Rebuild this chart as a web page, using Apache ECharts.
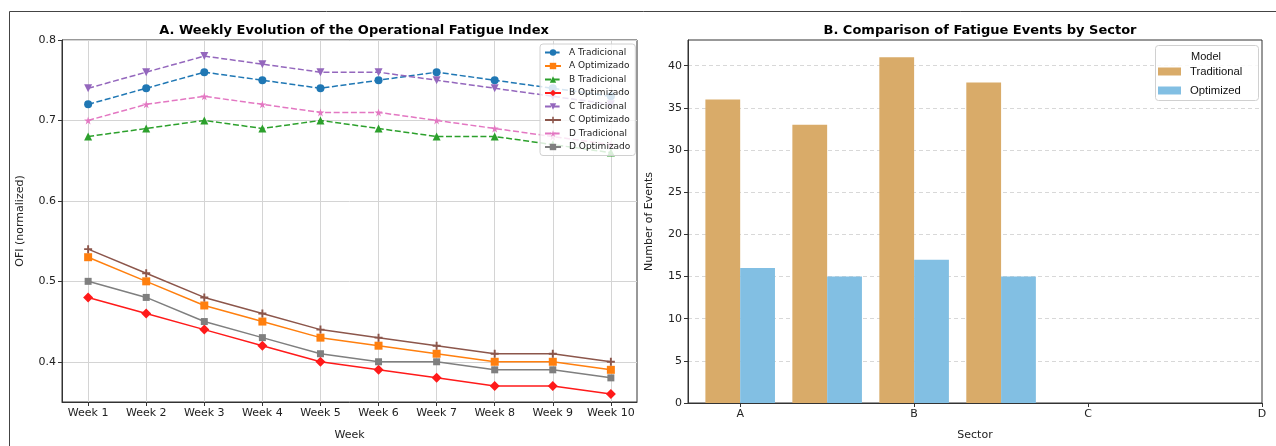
<!DOCTYPE html>
<html><head><meta charset="utf-8">
<script src="https://cdn.jsdelivr.net/npm/echarts@6/dist/echarts.min.js"></script>
<style>html,body{margin:0;padding:0;background:#fff}#c{width:1276px;height:446px}</style>
</head><body><div id="c"></div>
<script>
const weeks = ['Week 1','Week 2','Week 3','Week 4','Week 5','Week 6','Week 7','Week 8','Week 9','Week 10'];
const aTradicional = [0.72,0.74,0.76,0.75,0.74,0.75,0.76,0.75,0.74,0.73];
const aOptimizado  = [0.53,0.50,0.47,0.45,0.43,0.42,0.41,0.40,0.40,0.39];
const bTradicional = [0.68,0.69,0.70,0.69,0.70,0.69,0.68,0.68,0.67,0.66];
const bOptimizado  = [0.48,0.46,0.44,0.42,0.40,0.39,0.38,0.37,0.37,0.36];
const cTradicional = [0.74,0.76,0.78,0.77,0.76,0.76,0.75,0.74,0.73,0.72];
const cOptimizado  = [0.54,0.51,0.48,0.46,0.44,0.43,0.42,0.41,0.41,0.40];
const dTradicional = [0.70,0.72,0.73,0.72,0.71,0.71,0.70,0.69,0.68,0.67];
const dOptimizado  = [0.50,0.48,0.45,0.43,0.41,0.40,0.40,0.39,0.39,0.38];
const ofiTicks = [0.4,0.5,0.6,0.7,0.8];

const sectors = ['A','B','C','D'];
const traditional = [36,33,41,38];
const optimized = [16,15,17,15];
const eventTicks = [0,5,10,15,20,25,30,35,40];

const weekIdx = weeks.map((w,i)=>i);
const sectorIdx = sectors.map((s,i)=>i);
const pts = arr => arr.map((v,i)=>[i,v]);

const STAR = 'path://M50,0 L61,35 L98,35 L68,57 L79,91 L50,70 L21,91 L32,57 L2,35 L39,35 Z';
const PLUS = 'path://M38,0H62V38H100V62H62V100H38V62H0V38H38Z';
const TRI_DOWN = 'path://M0,0 L100,0 L50,90 Z';
const TRI_UP = 'path://M50,0 L100,90 L0,90 Z';
const DASH = [6,2.6];
const txt = '#222';
const font = 'DejaVu Sans';

function lineSeries(name, data, color, symbol, size, dashed){
  return {
    type:'line', name, xAxisIndex:0, yAxisIndex:0, data: pts(data),
    symbol, symbolSize:size, showSymbol:true,
    itemStyle:{color},
    lineStyle:{color, width:1.5, type: dashed ? DASH : 'solid'},
    animation:false
  };
}

function renderBar(params, api){
  const x = api.value(0), y = api.value(1);
  const p0 = api.coord([x - 0.1, y]);
  const p1 = api.coord([x + 0.1, 0]);
  return {type:'rect', shape:{x:p0[0], y:p0[1], width:p1[0]-p0[0], height:p1[1]-p0[1]}, style:{fill:api.visual('color')}};
}

const chart = echarts.init(document.getElementById('c'), null, {renderer:'canvas'});
chart.setOption({
  animation:false,
  textStyle:{fontFamily:font},
  title:[
    {text:'A. Weekly Evolution of the Operational Fatigue Index', left:349, top:19, textAlign:'center',
     textStyle:{fontSize:13, fontWeight:'bold', color:'#000', fontFamily:font}},
    {text:'B. Comparison of Fatigue Events by Sector', left:975, top:19, textAlign:'center',
     textStyle:{fontSize:13, fontWeight:'bold', color:'#000', fontFamily:font}}
  ],
  graphic:[
    {type:'rect', shape:{x:9.5, y:11.5, width:1300, height:1000}, style:{fill:'none', stroke:'#444', lineWidth:1}, silent:true},
    {type:'rect', shape:{x:1155.5, y:45.5, width:103, height:55, r:3}, style:{fill:'rgba(255,255,255,0.85)', stroke:'#d0d0d0', lineWidth:1}, z:10, silent:true},
    {type:'text', left:1191, top:51, style:{text:'Model', fontSize:11, fontFamily:'Liberation Sans', fill:'#111'}, z:11, silent:true}
  ],
  legend:[
    {orient:'vertical', left:540, top:44, padding:[4,5,4,4], itemGap:4.5, itemWidth:16, itemHeight:8,
     backgroundColor:'rgba(255,255,255,0.82)', borderColor:'#d0d0d0', borderWidth:1, borderRadius:3,
     textStyle:{fontSize:9, lineHeight:8, color:txt, fontFamily:font, padding:[0,0,0,3]},
     data:['A Tradicional','A Optimizado','B Tradicional','B Optimizado','C Tradicional','C Optimizado','D Tradicional','D Optimizado']},
    {orient:'vertical', left:1158, top:66, padding:0, itemGap:8, itemWidth:23, itemHeight:8,
     textStyle:{fontSize:11.3, lineHeight:8, color:'#111', fontFamily:'Liberation Sans', padding:[0,0,0,4]}, z:12,
     data:[{name:'Traditional', icon:'rect'},{name:'Optimized', icon:'rect'}]}
  ],
  grid:[
    {left:62, top:40, width:575, height:365, show:true, borderColor:'#333', borderWidth:1, backgroundColor:'transparent'},
    {left:688, top:40, width:574, height:365, show:true, borderColor:'#333', borderWidth:1, backgroundColor:'transparent'}
  ],
  xAxis:[
    {type:'value', gridIndex:0, min:-0.45, max:9.45,
     name:'Week', nameLocation:'middle', nameGap:28, nameTextStyle:{fontSize:11, color:txt},
     axisLine:{onZero:false, lineStyle:{color:'#333'}},
     axisTick:{customValues:weekIdx, length:4, lineStyle:{color:'#333'}},
     axisLabel:{customValues:weekIdx, formatter:v=>weeks[Math.round(v)], fontSize:11, color:txt, margin:6},
     splitLine:{show:true, lineStyle:{color:'#d4d4d4', width:1}}},
    {type:'value', gridIndex:1, min:-0.3, max:3,
     name:'Sector', nameLocation:'middle', nameGap:27, nameTextStyle:{fontSize:11, color:txt},
     axisLine:{onZero:false, lineStyle:{color:'#333'}},
     axisTick:{customValues:sectorIdx, length:4, lineStyle:{color:'#333'}},
     axisLabel:{customValues:sectorIdx, formatter:v=>sectors[Math.round(v)], fontSize:11, color:txt, margin:6},
     splitLine:{show:false}}
  ],
  yAxis:[
    {type:'value', gridIndex:0, min:0.35, max:0.8,
     name:'OFI (normalized)', nameLocation:'middle', nameGap:36, nameTextStyle:{fontSize:11, color:txt},
     axisLine:{show:true, onZero:false, lineStyle:{color:'#333'}},
     axisTick:{show:true, customValues:ofiTicks, length:4, lineStyle:{color:'#333'}},
     axisLabel:{customValues:ofiTicks, formatter:v=>v.toFixed(1), fontSize:11, color:txt, margin:6},
     splitLine:{show:true, lineStyle:{color:'#d4d4d4', width:1}}},
    {type:'value', gridIndex:1, min:0, max:43.05,
     name:'Number of Events', nameLocation:'middle', nameGap:33, nameTextStyle:{fontSize:11, color:txt},
     axisLine:{show:true, onZero:false, lineStyle:{color:'#333'}},
     axisTick:{show:true, customValues:eventTicks, length:4, lineStyle:{color:'#333'}},
     axisLabel:{customValues:eventTicks, fontSize:11, color:txt, margin:6},
     splitLine:{show:true, lineStyle:{color:'#d8d8d8', width:1, type:[4,3]}}}
  ],
  series:[
    lineSeries('A Tradicional', aTradicional, '#1f77b4', 'circle', 8, true),
    lineSeries('A Optimizado', aOptimizado, '#ff7f0e', 'rect', 8, false),
    lineSeries('B Tradicional', bTradicional, '#2ca02c', TRI_UP, 8, true),
    lineSeries('B Optimizado', bOptimizado, '#ff1a1a', 'diamond', 10, false),
    lineSeries('C Tradicional', cTradicional, '#9467bd', TRI_DOWN, 8, true),
    lineSeries('C Optimizado', cOptimizado, '#8c564b', PLUS, 8, false),
    lineSeries('D Tradicional', dTradicional, '#e377c2', STAR, 8, true),
    lineSeries('D Optimizado', dOptimizado, '#7f7f7f', 'rect', 7, false),
    {type:'custom', name:'Traditional', xAxisIndex:1, yAxisIndex:1, renderItem:renderBar,
     itemStyle:{color:'#d9ab69'}, encode:{x:0, y:1},
     data: traditional.map((v,i)=>[i*0.5-0.1, v])},
    {type:'custom', name:'Optimized', xAxisIndex:1, yAxisIndex:1, renderItem:renderBar,
     itemStyle:{color:'#82bfe3'}, encode:{x:0, y:1},
     data: optimized.map((v,i)=>[i*0.5+0.1, v])}
  ]
});
</script></body></html>
